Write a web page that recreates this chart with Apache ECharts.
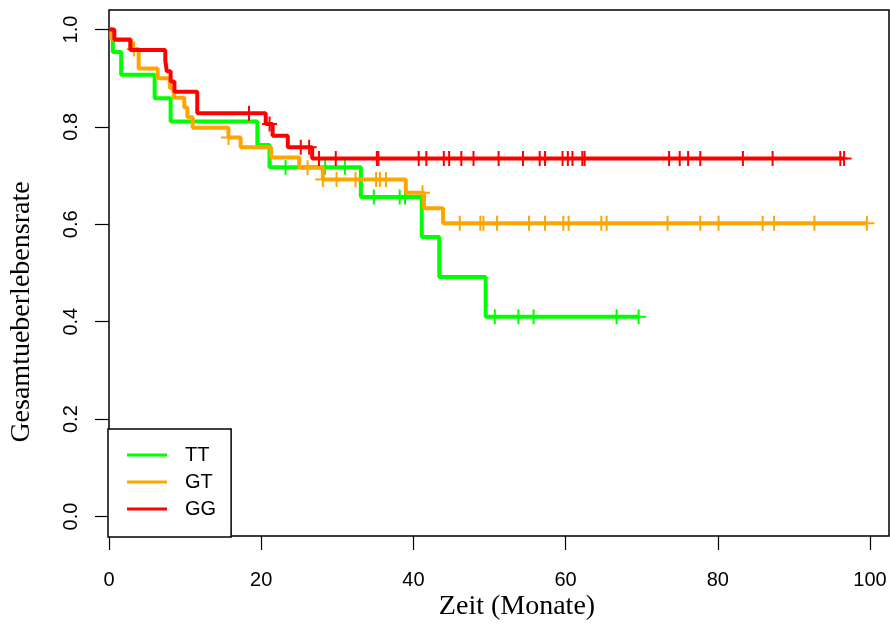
<!DOCTYPE html>
<html>
<head>
<meta charset="utf-8">
<script src="https://cdn.jsdelivr.net/npm/echarts@6/dist/echarts.min.js"></script>
<style>
  html, body { margin: 0; padding: 0; background: #fff; }
  #chart { width: 890px; height: 626px; }
</style>
</head>
<body>
<div id="chart"></div>
<script>
// Kaplan-Meier Kurven, Werte
const groups = ["TT", "GT", "GG"];
const colors = ["#00ff00", "#ffa500", "#ff0000"];

// TT
const ttTime = [0, 0.5, 1.6, 6.0, 8.1, 19.5, 21.1, 33.1, 41.1, 43.4, 49.5];
const ttSurv = [1, 0.954, 0.907, 0.859, 0.811, 0.763, 0.717, 0.656, 0.574, 0.492, 0.41];
const ttCens = [23.2, 28.4, 31.0, 34.8, 38.2, 38.9, 50.7, 53.8, 55.8, 66.7, 69.6];

// GT
const gtTime = [0, 0.3, 2.9, 3.9, 6.4, 8.0, 8.5, 9.9, 10.3, 11.0, 15.7, 17.3, 21.3, 25.0, 28.1, 39.0, 41.4, 43.9];
const gtSurv = [1, 0.98, 0.96, 0.92, 0.90, 0.88, 0.86, 0.84, 0.82, 0.798, 0.778, 0.758, 0.737, 0.716, 0.692, 0.665, 0.633, 0.602];
const gtCens = [3.3, 15.7, 26.1, 28.1, 29.9, 32.4, 35.1, 35.6, 36.4, 41.2, 46.1, 48.8, 49.2, 51.0, 55.2, 57.3,
  59.7, 60.4, 64.7, 65.4, 73.4, 77.7, 80.1, 85.9, 87.4, 92.7, 99.6];

// GG
const ggTime = [0, 0.7, 2.8, 7.4, 7.6, 8.1, 8.6, 11.6, 20.6, 21.5, 23.5, 26.7];
const ggSurv = [1, 0.979, 0.958, 0.936, 0.914, 0.893, 0.872, 0.828, 0.806, 0.782, 0.758, 0.735];
const ggCens = [18.4, 21.1, 25.2, 26.3, 27.6, 29.8, 35.2, 35.4, 40.7, 41.7, 44.0, 44.7, 46.3, 47.9, 51.2, 54.4,
  56.6, 57.3, 59.6, 60.3, 60.9, 62.2, 62.5, 73.6, 75.0, 76.1, 77.7, 83.3, 87.2, 96.1, 96.6];

const xTicks = [0, 20, 40, 60, 80, 100];
const yTicks = [0, 0.2, 0.4, 0.6, 0.8, 1.0];

const allTime = [ttTime, gtTime, ggTime];
const allSurv = [ttSurv, gtSurv, ggSurv];
const allCens = [ttCens, gtCens, ggCens];

// Stufenwert zum Zeitpunkt t
const levelAt = (times, surv, t) => {
  let s = surv[0];
  for (let i = 0; i < times.length; i++) {
    if (times[i] <= t) s = surv[i];
  }
  return s;
};

const plusSymbol = "path://M6.5,0H8.5V6.5H15V8.5H8.5V15H6.5V8.5H0V6.5H6.5Z";

const series = [];
groups.forEach((g, k) => {
  const times = allTime[k], surv = allSurv[k], cens = allCens[k];
  const pts = times.map((t, i) => [t, surv[i]]);
  const lastC = Math.max(...cens);
  if (lastC > times[times.length - 1]) pts.push([lastC, surv[surv.length - 1]]);
  series.push({
    name: g,
    type: "line",
    step: "end",
    showSymbol: false,
    data: pts,
    lineStyle: { color: colors[k], width: 4 },
    itemStyle: { color: colors[k] },
    z: 2 + k,
    animation: false,
  });
  series.push({
    name: g + "-zensiert",
    type: "scatter",
    symbol: plusSymbol,
    symbolSize: 15,
    data: cens.map((c) => [c, levelAt(times, surv, c)]),
    itemStyle: { color: colors[k], opacity: 1 },
    z: 2 + k,
    animation: false,
  });
});

const chart = echarts.init(document.getElementById("chart"));

const option = {
  backgroundColor: "#fff",
  animation: false,
  grid: {
    left: 109,
    right: 1,
    top: 10,
    bottom: 90,
    show: true,
    borderColor: "#000",
    borderWidth: 1.5,
  },
  xAxis: {
    type: "value",
    min: 0,
    max: 102.5,
    axisLine: { show: false, onZero: false },
    splitLine: { show: false },
    axisTick: { show: true, length: 14, customValues: xTicks, lineStyle: { color: "#000", width: 1.2 } },
    axisLabel: {
      customValues: xTicks,
      margin: 34,
      fontFamily: "Liberation Sans",
      fontSize: 20,
      color: "#000",
    },
  },
  yAxis: {
    type: "value",
    min: -0.04,
    max: 1.04,
    axisLine: { show: false, onZero: false },
    splitLine: { show: false },
    axisTick: { show: true, length: 14, customValues: yTicks, lineStyle: { color: "#000", width: 1.2 } },
    axisLabel: {
      customValues: yTicks,
      rotate: 90,
      margin: 28,
      fontFamily: "Liberation Sans",
      fontSize: 20,
      color: "#000",
      formatter: (v) => v.toFixed(1),
    },
  },
  legend: {
    data: groups,
    orient: "vertical",
    left: 108,
    top: 429,
    icon: "rect",
    itemWidth: 40,
    itemHeight: 3,
    itemGap: 7,
    padding: [16, 15, 18, 19],
    borderColor: "#000",
    borderWidth: 1.5,
    borderRadius: 0,
    backgroundColor: "#fff",
    selectedMode: false,
    textStyle: {
      fontFamily: "Liberation Sans",
      fontSize: 20,
      lineHeight: 20,
      color: "#000",
      padding: [0, 0, 0, 13],
    },
  },
  graphic: [
    {
      type: "text",
      x: 517,
      y: 607,
      style: {
        text: "Zeit (Monate)",
        font: '28px "Liberation Serif"',
        fill: "#000",
        textAlign: "center",
        textVerticalAlign: "middle",
        align: "center",
        verticalAlign: "middle",
      },
    },
    {
      type: "text",
      x: 22,
      y: 312,
      rotation: Math.PI / 2,
      style: {
        text: "Gesamtueberlebensrate",
        font: '28px "Liberation Serif"',
        fill: "#000",
        textAlign: "center",
        textVerticalAlign: "middle",
        align: "center",
        verticalAlign: "middle",
      },
    },
  ],
  series: series,
};

chart.setOption(option);
</script>
</body>
</html>
